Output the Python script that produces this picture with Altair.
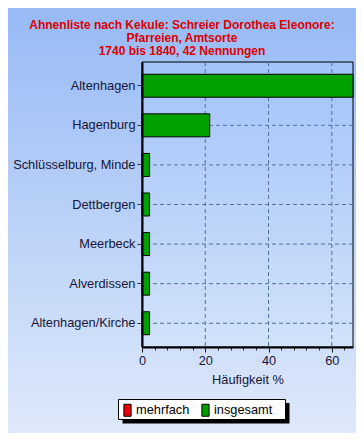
import altair as alt
import pandas as pd

# ---- data ----
categories = ["Altenhagen", "Hagenburg", "Schlüsselburg, Minde", "Dettbergen",
              "Meerbeck", "Alverdissen", "Altenhagen/Kirche"]
percent = [66.7, 21.4, 2.4, 2.4, 2.4, 2.4, 2.4]
series = "insgesamt"
legend_series = ["mehrfach", "insgesamt"]
legend_colors = ["#ee0000", "#00a000"]
x_ticks = [0, 4, 8, 12, 16, 20, 24, 28, 32, 36, 40, 44, 48, 52, 56, 60, 64]
x_grid = [20, 40, 60]
x_max = 66.7
title_text = ("Ahnenliste nach Kekule: Schreier Dorothea Eleonore:\n"
              "Pfarreien, Amtsorte\n"
              "1740 bis 1840, 42 Nennungen")

W, H = 211, 285
PAD = {"left": 134, "top": 54, "right": 3, "bottom": 86}
FULL_W, FULL_H = 348, 425

bars_df = pd.DataFrame({"category": categories, "pct": percent, "series": [series] * len(categories)})
xgrid_df = pd.DataFrame({"pct": x_grid})
ygrid_df = pd.DataFrame({"category": categories})
one = pd.DataFrame({"a": [0]})

xscale = alt.Scale(domain=[0, x_max], nice=False, zero=True)
yscale = alt.Scale(domain=categories, paddingInner=0.42, paddingOuter=0.31)
label_color = "#16163a"
font = "Liberation Sans"

x_axis = alt.Axis(values=x_ticks, grid=False, title="Häufigkeit %",
                  labelExpr="datum.value % 20 == 0 ? datum.label : ''",
                  tickSize={"condition": {"test": "datum.value % 20 == 0", "value": 5}, "value": 3},
                  tickColor="#202020", domainColor="black", domainWidth=2,
                  labelFontSize=12.8, labelFont=font, labelColor=label_color, labelPadding=2,
                  labelFlush=False,
                  titleFontSize=12.8, titleFont=font, titleFontWeight="normal",
                  titleColor=label_color, titlePadding=7, zindex=1)
y_axis = alt.Axis(title=None, grid=False, tickSize=5, tickColor="#303030",
                  domainColor="black", domainWidth=2, labelFontSize=12.8,
                  labelFont=font, labelColor=label_color, labelPadding=2,
                  labelLimit=300, zindex=1)

outer_bg = alt.Chart(one).mark_rect(
    color=alt.LinearGradient(gradient="linear", x1=0, y1=0, x2=0, y2=1,
                             stops=[alt.GradientStop(offset=0, color="#97baf5"),
                                    alt.GradientStop(offset=1, color="#dee9fa")])
).encode(x=alt.value(-PAD["left"]), x2=alt.value(FULL_W - PAD["left"]),
         y=alt.value(-PAD["top"]), y2=alt.value(FULL_H - PAD["top"]))

plot_bg = alt.Chart(one).mark_rect(
    color=alt.LinearGradient(gradient="linear", x1=0, y1=0, x2=0, y2=1,
                             stops=[alt.GradientStop(offset=0, color="#a2c3f9"),
                                    alt.GradientStop(offset=1, color="#d2e2fa")]),
    stroke="black", strokeWidth=1
).encode(x=alt.value(0), x2=alt.value(W), y=alt.value(0), y2=alt.value(H))

grid_style = dict(color="#52729e", strokeDash=[4, 3], strokeWidth=1)
xgrid = alt.Chart(xgrid_df).mark_rule(**grid_style).encode(
    x=alt.X("pct:Q", scale=xscale, axis=x_axis))
ygrid = alt.Chart(ygrid_df).mark_rule(**grid_style).encode(
    y=alt.Y("category:N", scale=yscale, sort=categories, axis=y_axis))

bars = alt.Chart(bars_df).mark_bar(stroke="black", strokeWidth=1).encode(
    x=alt.X("pct:Q", scale=xscale, axis=x_axis),
    y=alt.Y("category:N", scale=yscale, sort=categories, axis=y_axis),
    color=alt.Color("series:N",
                    scale=alt.Scale(domain=legend_series, range=legend_colors),
                    legend=alt.Legend(orient="none", legendX=-21, legendY=341.5,
                                      direction="horizontal", title=None,
                                      symbolType="M-0.6,-1H0.6V1H-0.6Z",
                                      symbolSize=144, symbolStrokeColor="black",
                                      symbolStrokeWidth=1, symbolOpacity=1,
                                      labelFontSize=12.8, labelFont=font,
                                      labelColor="black", labelOffset=2,
                                      columnPadding=9, padding=0, zindex=1)),
)

legend_shadow = alt.Chart(one).mark_rect(color="black").encode(
    x=alt.value(-19.5), x2=alt.value(147.5), y=alt.value(341), y2=alt.value(361.5))
legend_box = alt.Chart(one).mark_rect(fill="white", stroke="black", strokeWidth=1).encode(
    x=alt.value(-23.5), x2=alt.value(143.5), y=alt.value(337.5), y2=alt.value(357.5))

title = alt.Chart(one).mark_text(
    text=title_text, lineBreak="\n", lineHeight=13, fontSize=12, font=font,
    fontWeight="bold", color="#dd0000", align="center", baseline="middle"
).encode(x=alt.value(40), y=alt.value(-37))

chart = alt.layer(outer_bg, plot_bg, xgrid, ygrid, bars, legend_shadow, legend_box, title).properties(
    width=W, height=H,
    padding=PAD,
    autosize=alt.AutoSizeParams(type="none"),
).configure_view(stroke=None).configure(background="white")

chart.save("out.html", embed_options={"renderer": "svg", "actions": False})
